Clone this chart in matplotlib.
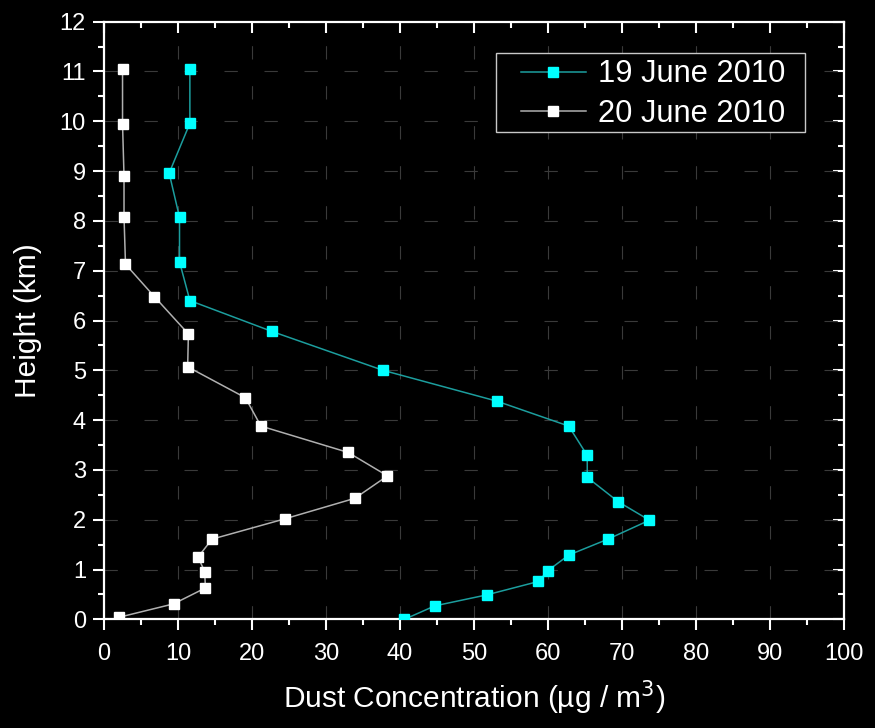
import matplotlib.pyplot as plt
from matplotlib.patches import Rectangle
import numpy as np

plt.rcParams['font.family'] = ['Liberation Sans', 'DejaVu Sans']

# 19 June 2010 profile
conc_19 = [11.6, 11.6, 8.8, 10.2, 10.2, 11.6, 22.7, 37.7, 53.1, 62.8, 65.3,
           65.3, 69.5, 73.7, 68.1, 62.8, 60.0, 58.7, 51.7, 44.7, 40.6]
height_19 = [11.05, 9.96, 8.96, 8.07, 7.18, 6.40, 5.78, 5.00, 4.38, 3.88, 3.29,
             2.85, 2.36, 1.99, 1.61, 1.29, 0.98, 0.76, 0.49, 0.27, 0.0]

# 20 June 2010 profile
conc_20 = [2.5, 2.5, 2.7, 2.7, 2.9, 6.8, 11.4, 11.3, 19.1, 21.2, 33.0,
           38.3, 33.9, 24.5, 14.6, 12.7, 13.6, 13.7, 9.4, 2.0]
height_20 = [11.06, 9.94, 8.90, 8.08, 7.13, 6.48, 5.73, 5.07, 4.45, 3.88, 3.35,
             2.88, 2.43, 2.02, 1.61, 1.25, 0.96, 0.63, 0.31, 0.04]

fig = plt.figure(figsize=(8.75, 7.28), dpi=100, facecolor='black')
ax = fig.add_axes([0.1189, 0.1493, 0.8457, 0.8209], facecolor='black')

ax.plot(conc_19, height_19, '-', color='#1c9e9e', lw=1.1, marker='s', ms=6.5,
        mfc='#00ffff', mec='#00ffff', label='19 June 2010', zorder=3)
ax.plot(conc_20, height_20, '-', color='#b0b0b0', lw=1.1, marker='s', ms=6.5,
        mfc='white', mec='white', label='20 June 2010', zorder=3)

xmaj = np.arange(0, 101, 10)
xmin = np.arange(5, 100, 10)
ymaj = np.arange(0, 13, 1)
ymin = np.arange(0.5, 12, 1)

ax.set_xlim(0, 100)
ax.set_ylim(0, 12)
ax.set_xticks(xmaj)
ax.set_xticks(xmin, minor=True)
ax.set_yticks(ymaj)
ax.set_yticks(ymin, minor=True)

ax.grid(True, which='major', color='#3a3a3a', lw=0.8, linestyle=(0, (12, 24)))

for s in ax.spines.values():
    s.set_color('white')
    s.set_linewidth(1.6)

# outward ticks on bottom/left
ax.tick_params(which='both', colors='white', width=1.5, labelsize=17)
ax.tick_params(which='major', length=8)
ax.tick_params(which='minor', length=4.5)
ax.tick_params(axis='x', which='both', direction='out', top=False, pad=9)
ax.tick_params(axis='y', which='both', direction='out', right=False, pad=5)

# inward ticks on top/right
axt = ax.secondary_xaxis('top')
axt.set_xticks(xmaj)
axt.set_xticks(xmin, minor=True)
axt.tick_params(which='both', direction='in', colors='white', width=1.5,
                labeltop=False)
axt.tick_params(which='major', length=8)
axt.tick_params(which='minor', length=4.5)
axt.spines['top'].set_visible(False)

axr = ax.secondary_yaxis('right')
axr.set_yticks(ymaj)
axr.set_yticks(ymin, minor=True)
axr.tick_params(which='both', direction='in', colors='white', width=1.5,
                labelright=False)
axr.tick_params(which='major', length=8)
axr.tick_params(which='minor', length=4.5)
axr.spines['right'].set_visible(False)

ax.set_xlabel('Dust Concentration (µg / m$^3$)', color='white', fontsize=21.5,
              labelpad=10)
ax.set_ylabel('Height (km)', color='white', fontsize=21.5, labelpad=13)

# legend box drawn separately so the padding can be wider on the left
ax.add_patch(Rectangle((0.5297, 0.8154), 0.4176, 0.1322, transform=ax.transAxes,
                       facecolor='black', edgecolor='#c8c8c8', lw=1.0, zorder=4))
leg = ax.legend(loc='center', bbox_to_anchor=(0.742, 0.879), borderaxespad=0,
                fontsize=22.2, frameon=False, handlelength=2.1,
                handletextpad=0.4, labelspacing=0.3, borderpad=0)
leg.set_zorder(5)
for t in leg.get_texts():
    t.set_color('white')

fig.savefig('out.png', dpi=100, facecolor='black')
